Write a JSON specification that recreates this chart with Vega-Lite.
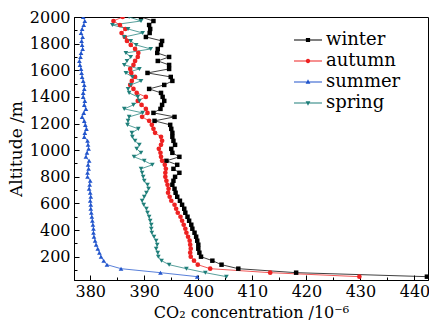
{
  "$schema": "https://vega.github.io/schema/vega-lite/v6.json",
  "width": 354,
  "height": 263,
  "autosize": {"type": "none"},
  "padding": {"left": 74, "top": 17, "right": 1, "bottom": 44},
  "background": "white",
  "config": {
    "font": "DejaVu Serif",
    "view": {"stroke": "black", "strokeWidth": 1},
    "axis": {
      "grid": false,
      "domainColor": "black",
      "domainWidth": 1,
      "tickColor": "black",
      "tickWidth": 1,
      "labelColor": "black",
      "labelFont": "DejaVu Serif",
      "labelFontSize": 16,
      "titleFont": "DejaVu Serif",
      "titleColor": "black",
      "titleFontWeight": "normal",
      "labelOverlap": false,
      "labelFlush": false
    }
  },
  "data": {
    "values": [
      {"altitude": 2000, "winter": 389.4, "autumn": 386.0, "summer": 378.7, "spring": 387.2},
      {"altitude": 1970, "winter": 391.7, "autumn": 384.3, "summer": 379.0, "spring": 389.4},
      {"altitude": 1940, "winter": 390.9, "autumn": 385.5, "summer": 378.8, "spring": 384.1},
      {"altitude": 1910, "winter": 391.1, "autumn": 386.5, "summer": 378.5, "spring": 387.0},
      {"altitude": 1880, "winter": 391.0, "autumn": 385.8, "summer": 378.3, "spring": 389.7},
      {"altitude": 1850, "winter": 390.3, "autumn": 386.4, "summer": 378.6, "spring": 386.3},
      {"altitude": 1820, "winter": 393.3, "autumn": 386.8, "summer": 378.4, "spring": 387.5},
      {"altitude": 1790, "winter": 393.1, "autumn": 387.5, "summer": 378.5, "spring": 388.5},
      {"altitude": 1760, "winter": 392.5, "autumn": 388.3, "summer": 378.6, "spring": 391.2},
      {"altitude": 1730, "winter": 392.4, "autumn": 388.9, "summer": 378.3, "spring": 386.6},
      {"altitude": 1700, "winter": 394.6, "autumn": 388.8, "summer": 378.2, "spring": 387.5},
      {"altitude": 1670, "winter": 392.5, "autumn": 388.3, "summer": 378.0, "spring": 386.8},
      {"altitude": 1640, "winter": 394.6, "autumn": 388.0, "summer": 378.1, "spring": 386.3},
      {"altitude": 1610, "winter": 394.6, "autumn": 387.4, "summer": 378.3, "spring": 389.1},
      {"altitude": 1580, "winter": 390.6, "autumn": 387.6, "summer": 378.4, "spring": 386.6},
      {"altitude": 1550, "winter": 394.9, "autumn": 388.3, "summer": 378.5, "spring": 387.8},
      {"altitude": 1520, "winter": 395.2, "autumn": 387.7, "summer": 378.7, "spring": 389.4},
      {"altitude": 1490, "winter": 393.7, "autumn": 387.4, "summer": 378.9, "spring": 387.5},
      {"altitude": 1460, "winter": 390.9, "autumn": 388.0, "summer": 378.9, "spring": 387.0},
      {"altitude": 1430, "winter": 393.1, "autumn": 388.6, "summer": 378.7, "spring": 387.2},
      {"altitude": 1400, "winter": 393.4, "autumn": 390.3, "summer": 378.7, "spring": 388.8},
      {"altitude": 1370, "winter": 393.7, "autumn": 388.8, "summer": 379.0, "spring": 389.1},
      {"altitude": 1340, "winter": 393.3, "autumn": 389.5, "summer": 378.9, "spring": 388.0},
      {"altitude": 1310, "winter": 393.0, "autumn": 390.3, "summer": 379.2, "spring": 386.3},
      {"altitude": 1280, "winter": 391.7, "autumn": 390.6, "summer": 378.8, "spring": 389.7},
      {"altitude": 1250, "winter": 395.6, "autumn": 389.6, "summer": 378.5, "spring": 387.2},
      {"altitude": 1220, "winter": 391.9, "autumn": 390.9, "summer": 378.9, "spring": 387.0},
      {"altitude": 1190, "winter": 394.8, "autumn": 391.4, "summer": 379.1, "spring": 386.9},
      {"altitude": 1160, "winter": 395.0, "autumn": 391.7, "summer": 379.3, "spring": 388.9},
      {"altitude": 1130, "winter": 395.2, "autumn": 392.0, "summer": 379.0, "spring": 387.7},
      {"altitude": 1100, "winter": 395.2, "autumn": 393.1, "summer": 378.9, "spring": 387.8},
      {"altitude": 1070, "winter": 395.4, "autumn": 393.3, "summer": 379.5, "spring": 388.3},
      {"altitude": 1040, "winter": 395.7, "autumn": 393.1, "summer": 379.6, "spring": 389.1},
      {"altitude": 1010, "winter": 395.0, "autumn": 392.7, "summer": 379.7, "spring": 388.6},
      {"altitude": 980, "winter": 395.2, "autumn": 393.0, "summer": 379.4, "spring": 389.4},
      {"altitude": 950, "winter": 396.5, "autumn": 393.1, "summer": 379.2, "spring": 388.1},
      {"altitude": 920, "winter": 394.1, "autumn": 393.3, "summer": 379.8, "spring": 390.0},
      {"altitude": 890, "winter": 396.1, "autumn": 393.8, "summer": 379.6, "spring": 391.5},
      {"altitude": 860, "winter": 395.4, "autumn": 394.0, "summer": 379.7, "spring": 389.4},
      {"altitude": 830, "winter": 396.5, "autumn": 393.9, "summer": 379.5, "spring": 389.6},
      {"altitude": 800, "winter": 395.7, "autumn": 393.9, "summer": 379.5, "spring": 389.8},
      {"altitude": 770, "winter": 395.4, "autumn": 394.1, "summer": 380.0, "spring": 390.0},
      {"altitude": 740, "winter": 395.2, "autumn": 394.3, "summer": 379.9, "spring": 390.6},
      {"altitude": 710, "winter": 395.6, "autumn": 394.5, "summer": 379.8, "spring": 390.8},
      {"altitude": 680, "winter": 395.8, "autumn": 394.4, "summer": 380.0, "spring": 390.4},
      {"altitude": 650, "winter": 396.1, "autumn": 394.7, "summer": 380.1, "spring": 390.0},
      {"altitude": 620, "winter": 396.6, "autumn": 395.0, "summer": 380.0, "spring": 389.6},
      {"altitude": 590, "winter": 397.0, "autumn": 395.6, "summer": 380.1, "spring": 389.9},
      {"altitude": 560, "winter": 397.4, "autumn": 395.9, "summer": 380.1, "spring": 390.4},
      {"altitude": 530, "winter": 397.6, "autumn": 396.2, "summer": 380.2, "spring": 390.6},
      {"altitude": 500, "winter": 398.0, "autumn": 396.7, "summer": 380.3, "spring": 390.9},
      {"altitude": 470, "winter": 398.3, "autumn": 397.0, "summer": 380.4, "spring": 391.1},
      {"altitude": 440, "winter": 398.7, "autumn": 397.3, "summer": 380.5, "spring": 391.3},
      {"altitude": 410, "winter": 398.9, "autumn": 397.6, "summer": 380.6, "spring": 391.3},
      {"altitude": 380, "winter": 399.3, "autumn": 397.8, "summer": 380.6, "spring": 391.4},
      {"altitude": 350, "winter": 399.6, "autumn": 398.1, "summer": 380.7, "spring": 391.8},
      {"altitude": 320, "winter": 399.8, "autumn": 398.4, "summer": 380.9, "spring": 392.2},
      {"altitude": 290, "winter": 400.0, "autumn": 398.5, "summer": 381.1, "spring": 392.4},
      {"altitude": 260, "winter": 400.0, "autumn": 398.6, "summer": 381.4, "spring": 392.2},
      {"altitude": 230, "winter": 400.2, "autumn": 398.5, "summer": 381.7, "spring": 392.5},
      {"altitude": 200, "winter": 400.5, "autumn": 398.6, "summer": 382.0, "spring": 392.6},
      {"altitude": 170, "winter": 402.6, "autumn": 399.2, "summer": 382.5, "spring": 393.2},
      {"altitude": 140, "winter": 404.3, "autumn": 399.9, "summer": 383.1, "spring": 394.6},
      {"altitude": 110, "winter": 407.4, "autumn": 402.2, "summer": 385.7, "spring": 397.8},
      {"altitude": 80, "winter": 418.1, "autumn": 413.3, "summer": 393.0, "spring": 401.3},
      {"altitude": 50, "winter": 442.3, "autumn": 429.8, "summer": 399.8, "spring": 405.2}
    ]
  },
  "transform": [
    {"fold": ["winter", "autumn", "summer", "spring"], "as": ["season", "co2"]}
  ],
  "encoding": {
    "x": {
      "field": "co2",
      "type": "quantitative",
      "scale": {"domain": [377, 442.5], "nice": false, "zero": false},
      "axis": {
        "title": "CO₂ concentration /10⁻⁶",
        "titleFontSize": 16,
        "titlePadding": 3,
        "format": "d",
        "values": [380, 385, 390, 395, 400, 405, 410, 415, 420, 425, 430, 435, 440],
        "labelExpr": "datum.value % 10 === 0 ? datum.label : ''",
        "tickSize": {"condition": {"test": "datum.value % 10 === 0", "value": -5}, "value": -3},
        "labelPadding": 8
      }
    },
    "y": {
      "field": "altitude",
      "type": "quantitative",
      "scale": {"domain": [25, 2000], "nice": false, "zero": false},
      "axis": {
        "title": "Altitude /m",
        "titleFontSize": 17,
        "titlePadding": 4,
        "format": "d",
        "values": [100, 200, 300, 400, 500, 600, 700, 800, 900, 1000, 1100, 1200, 1300, 1400, 1500, 1600, 1700, 1800, 1900, 2000],
        "labelExpr": "datum.value % 200 === 0 ? datum.label : ''",
        "tickSize": {"condition": {"test": "datum.value % 200 === 0", "value": -5}, "value": -3},
        "labelPadding": 9
      }
    },
    "color": {
      "field": "season",
      "type": "nominal",
      "scale": {
        "domain": ["winter", "autumn", "summer", "spring"],
        "range": ["#000000", "#ee2222", "#2255cc", "#1f7f7a"]
      },
      "legend": {
        "title": null,
        "orient": "none",
        "legendX": 225,
        "legendY": 14,
        "padding": 0,
        "labelFont": "DejaVu Serif",
        "labelFontSize": 18,
        "labelColor": "black",
        "labelOffset": 9,
        "rowPadding": 3,
        "symbolSize": 196,
        "symbolOpacity": 1,
        "symbolStrokeWidth": 0,
        "symbolType": {"expr": "datum.value === 'winter' ? 'M-2,-0.07H2V0.07H-2Z M-0.3,-0.3H0.3V0.3H-0.3Z' : datum.value === 'autumn' ? 'M-2,-0.07H2V0.07H-2Z M-0.32,0A0.32,0.32 0 1,1 0.32,0A0.32,0.32 0 1,1 -0.32,0Z' : datum.value === 'summer' ? 'M-2,-0.07H2V0.07H-2Z M0,-0.38L0.34,0.24H-0.34Z' : 'M-2,-0.07H2V0.07H-2Z M0,0.38L-0.34,-0.24H0.34Z'"}
      }
    }
  },
  "layer": [
    {
      "mark": {"type": "line", "strokeWidth": 1, "opacity": 0.75, "clip": true},
      "encoding": {"order": {"field": "altitude", "type": "quantitative"}}
    },
    {
      "transform": [{"filter": "datum.season === 'winter'"}],
      "mark": {"type": "point", "shape": "square", "filled": true, "size": 20, "opacity": 1, "clip": true}
    },
    {
      "transform": [{"filter": "datum.season === 'autumn'"}],
      "mark": {"type": "point", "shape": "circle", "filled": true, "size": 22, "opacity": 1, "clip": true}
    },
    {
      "transform": [{"filter": "datum.season === 'summer'"}],
      "mark": {"type": "point", "shape": "triangle-up", "filled": true, "size": 22, "opacity": 1, "clip": true}
    },
    {
      "transform": [{"filter": "datum.season === 'spring'"}],
      "mark": {"type": "point", "shape": "triangle-down", "filled": true, "size": 22, "opacity": 1, "clip": true}
    }
  ]
}
